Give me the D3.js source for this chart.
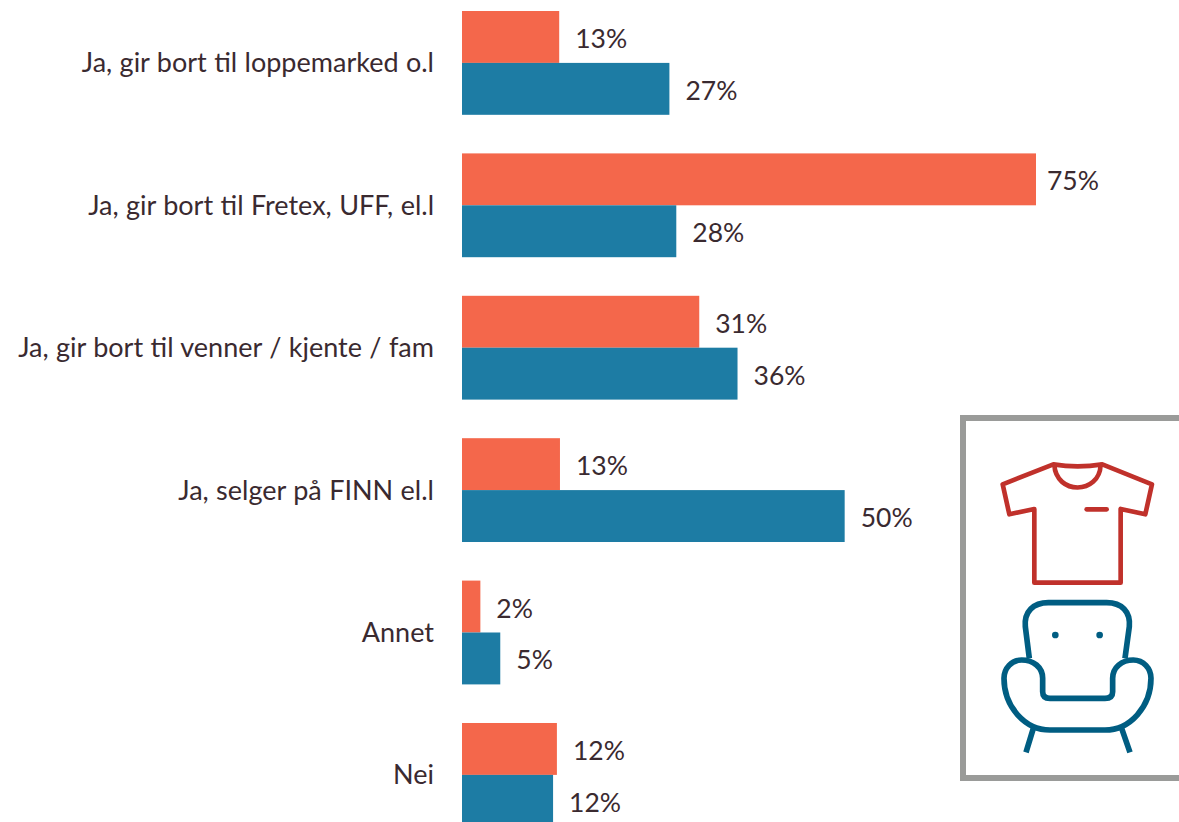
<!DOCTYPE html>
<html><head><meta charset="utf-8">
<script src="https://cdn.jsdelivr.net/npm/d3@7"></script>
<style>html,body{margin:0;padding:0;background:#fff;overflow:hidden}svg{display:block}text{font-family:Lato,"Open Sans",sans-serif;fill:#3a2a30}</style>
</head><body><svg id="c" width="1179" height="822"></svg>
<script>
const categories = ["Ja, gir bort til loppemarked o.l","Ja, gir bort til Fretex, UFF, el.l","Ja, gir bort til venner / kjente / fam","Ja, selger på FINN el.l","Annet","Nei"];
const seriesA = [12.7,75,31,12.8,2.4,12.4];
const seriesB = [27.1,28,36,50,5,11.9];
const labelsA = ["13%","75%","31%","13%","2%","12%"];
const labelsB = ["27%","28%","36%","50%","5%","12%"];
const colorA = "#f4674b", colorB = "#1d7ca4";

const svg = d3.select("#c");
const x = d3.scaleLinear().domain([0,75]).range([462,1036]);
const y = d3.scaleBand().domain(categories).range([11,826.8]).paddingInner(0.271).paddingOuter(0);
const h = y.bandwidth()/2;

function bars(vals, labels, color, off){
  const g = svg.append("g");
  g.selectAll("rect").data(vals).join("rect")
    .attr("x",x(0)).attr("y",(d,i)=>y(categories[i])+off)
    .attr("width",d=>x(d)-x(0)).attr("height",h).attr("fill",color);
  g.selectAll("text").data(vals).join("text")
    .attr("x",d=>x(d)+(d>=75?11:16)).attr("y",(d,i)=>y(categories[i])+off+h/2+11)
    .attr("font-size",26.5).text((d,i)=>labels[i]);
}
bars(seriesA,labelsA,colorA,0);
bars(seriesB,labelsB,colorB,h);

svg.append("g").selectAll("text").data(categories).join("text")
  .attr("x",434).attr("y",d=>y(d)+h+9.5).attr("text-anchor","end")
  .attr("font-size",27).attr("word-spacing",0.5).text(d=>d);

// inset frame
svg.append("rect").attr("x",963).attr("y",418).attr("width",240).attr("height",360)
  .attr("fill","none").attr("stroke","#9a9b99").attr("stroke-width",6);

// shirt icon
const shirt = svg.append("g").attr("transform","translate(950,405) scale(0.3333)")
  .attr("fill","none").attr("stroke","#c0312b").attr("stroke-width",14).attr("stroke-linejoin","round").attr("stroke-linecap","round");
shirt.append("path").attr("d","M310,178 Q383,190 457,178 L606,238 L586,328 L512,312 L512,533 L253,533 L253,312 L178,328 L158,238 Z");
shirt.append("path").attr("d","M313,180 C318,270 448,270 452,180");
shirt.append("path").attr("d","M410,313 L470,313");

// chair icon
const chair = svg.append("g").attr("transform","translate(950,590) scale(0.3333)")
  .attr("fill","none").attr("stroke","#005d82").attr("stroke-width",17).attr("stroke-linejoin","round");
chair.append("path").attr("d","M238,205 L226,110 C222,65 250,38 295,38 L470,38 C515,38 542,65 538,110 L525,205");
chair.append("path").attr("d","M278,265 C278,232 250,210 215,210 C185,210 162,235 162,265 C162,350 225,420 300,420 L465,420 C540,420 603,350 603,265 C603,235 580,210 550,210 C515,210 488,232 488,265 L488,305 Q488,325 465,325 L300,325 Q278,325 278,305 Z");
chair.append("path").attr("d","M250,415 L228,487 M515,415 L540,487");
chair.selectAll("circle").data([316,449]).join("circle").attr("cx",d=>d).attr("cy",135).attr("r",10).attr("fill","#005d82").attr("stroke","none");
</script></body></html>
